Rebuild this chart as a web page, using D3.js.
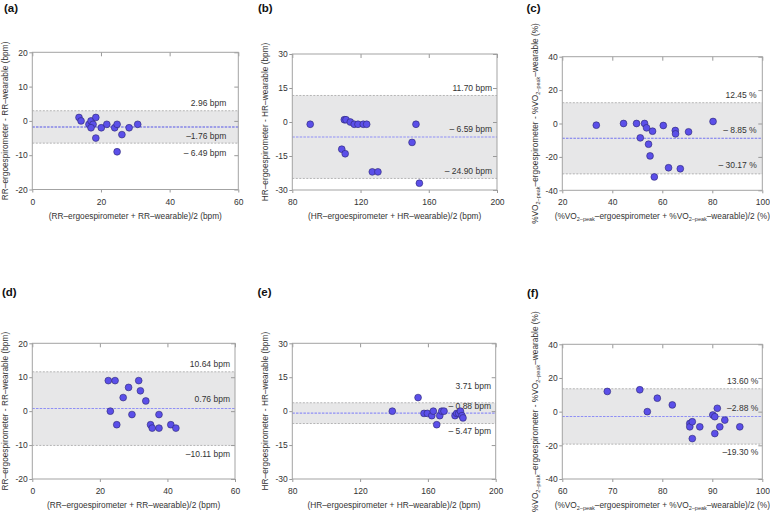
<!DOCTYPE html>
<html>
<head>
<meta charset="utf-8">
<script src="https://cdn.jsdelivr.net/npm/d3@7"></script>
<style>
  body { margin: 0; background: #fff; }
  svg { display: block; font-family: "Liberation Sans", Arial, sans-serif; }
  .tick text { fill: #333; font-size: 8.5px; }
  .tick line { stroke: #999; }
</style>
</head>
<body>
<svg width="770" height="512"></svg>
<script>
// values: mean of the two methods (x) and their difference (y)
var aMean = [13.6, 14.2, 16.5, 17.1, 17.7, 17.1, 18.5, 18.5, 20.1, 21.7, 24.0, 24.7, 24.7, 26.1, 28.2, 30.7];
var aDiff = [1, 0, -1, 0, -1, -2, 1, -5, -2, -1, -2, -1, -9, -4, -2, -1];

var bMean = [90.5, 109, 110.5, 111, 111.5, 114, 116.3, 118.5, 121.6, 123.6, 126.9, 130.2, 150.2, 152.5, 154.5];
var bDiff = [-1, -12, 1, -14, 1, 0, -1, -1, -1, -1, -22, -22, -9, -1, -27];

var cMean = [33.6, 44.5, 49.7, 51.2, 52.9, 53.7, 54.5, 55.1, 56.1, 56.8, 60.4, 62.5, 65.2, 65.3, 67.2, 70.5, 80.3];
var cDiff = [-1, 0, 0, -8.6, 0, -2.6, -12.4, -19.4, -4.6, -32, -1.2, -26.5, -4.2, -6.2, -27.1, -5, 1.2];

var dMean = [22.5, 23.1, 24.5, 25, 26.9, 28.5, 29.5, 31.5, 32, 33.6, 35, 35.5, 37.5, 37.5, 41, 42.5];
var dDiff = [9, 0, 9, -4, 4, 7, -1, 9, 6, 3, -4, -5, -1, -5, -4, -5];

var eMean = [139, 154.2, 157.7, 159.7, 162.3, 163.2, 165.2, 167, 168.2, 169.5, 176, 177, 178.2, 179.2, 180.1, 180.7];
var eDiff = [0, 6, -1, -1, -2, 0, -6, -2, 0, 0, -2, -1, -1, 0, -2, -3];

var fMean = [69, 75.5, 77, 79, 82, 85.5, 85.5, 86, 86, 87.5, 90.1, 90.5, 90.5, 91, 91.5, 92.5, 95.5];
var fDiff = [12, 13, 0, 8, 4, -7, -9, -6, -16, -9, -2, -3, -13, 2, -9, -5, -9];

// upper limit, bias, lower limit (where the lines sit) and their printed labels
var aLimits = [2.96, -1.76, -6.49];
var bLimits = [11.70, -6.59, -24.90];
var cLimits = [12.45, -8.85, -30.17];
var dLimits = [11.6, 0.76, -10.11];
var eLimits = [3.71, -0.88, -5.47];
var fLimits = [13.60, -2.88, -19.30];

var aLabels = ['2.96 bpm', '\u20131.76 bpm', '\u2013 6.49 bpm'];
var bLabels = ['11.70 bpm', '\u2013 6.59 bpm', '\u2013 24.90 bpm'];
var cLabels = ['12.45 %', '\u2013 8.85 %', '\u2013 30.17 %'];
var dLabels = ['10.64 bpm', '0.76 bpm', '\u201310.11 bpm'];
var eLabels = ['3.71 bpm', '\u2013 0.88 bpm', '\u2013 5.47 bpm'];
var fLabels = ['13.60 %', '\u20132.88 %', '\u201319.30 %'];

// axis ticks
var rrXTicks = [0, 20, 40, 60];
var rrYTicks = [-20, -10, 0, 10, 20];
var hrXTicks = [80, 120, 160, 200];
var hrYTicks = [-30, -15, 0, 15, 30];
var vo2XTicksC = [20, 40, 60, 80, 100];
var vo2XTicksF = [60, 70, 80, 90, 100];
var vo2YTicks = [-40, -20, 0, 20, 40];

var svg = d3.select('svg');

// layout per panel (box edges in px), label offsets relative to each line
var panels = [
    {tag: '(a)', tx: 4, ty: 12, box: [32.3, 238.3, 52.3, 189.5], x: rrXTicks, y: rrYTicks, kind: 'RR',
     mean: aMean, diff: aDiff, lim: aLimits, lab: aLabels, dy: [-8, 9, 10], inset: 12, biasColor: '#5656e6'},
    {tag: '(b)', tx: 258, ty: 12, box: [292.3, 497, 54, 190], x: hrXTicks, y: hrYTicks, kind: 'HR',
     mean: bMean, diff: bDiff, lim: bLimits, lab: bLabels, dy: [-7.3, -8, -7.3], inset: 5, biasColor: '#8f8ff5'},
    {tag: '(c)', tx: 526.5, ty: 12, box: [562.3, 762.3, 56.7, 190.3], x: vo2XTicksC, y: vo2YTicks, kind: 'VO2',
     mean: cMean, diff: cDiff, lim: cLimits, lab: cLabels, dy: [-8, -8, -8.4], inset: 5.6, biasColor: '#7474f0'},
    {tag: '(d)', tx: 2, ty: 296, box: [32.3, 235, 343.3, 479], x: rrXTicks, y: rrYTicks, kind: 'RR',
     mean: dMean, diff: dDiff, lim: dLimits, lab: dLabels, dy: [-8, -9.4, 8.3], inset: 5, biasColor: '#8f8ff5'},
    {tag: '(e)', tx: 257.5, ty: 296, box: [292.3, 495.7, 343.3, 479], x: hrXTicks, y: hrYTicks, kind: 'HR',
     mean: eMean, diff: eDiff, lim: eLimits, lab: eLabels, dy: [-16.3, -7, 7.7], inset: 4.7, biasColor: '#8f8ff5'},
    {tag: '(f)', tx: 527, ty: 297, box: [562.3, 762.3, 344.3, 479], x: vo2XTicksF, y: vo2YTicks, kind: 'VO2',
     mean: fMean, diff: fDiff, lim: fLimits, lab: fLabels, dy: [-7.3, -8, 7.7], inset: 4, biasColor: '#8f8ff5'}
];

// writes an axis title; the VO2 ones need the "2-peak" subscripts
function writeTitle(text, kind, axis) {
    var sub = {'font-size': '5.5px', 'baseline-shift': '-25%'};
    if (kind === 'VO2') {
        var parts = axis === 'x'
            ? ['(%VO', '\u2013ergoespirometer + %VO', '\u2013wearable)/2 (%)']
            : ['%VO', '\u2013ergoespirometer - %VO', '\u2013wearable (%)'];
        text.append('tspan').text(parts[0]);
        text.append('tspan').attr('font-size', sub['font-size']).attr('baseline-shift', sub['baseline-shift']).text('2\u2013peak');
        text.append('tspan').text(parts[1]);
        text.append('tspan').attr('font-size', sub['font-size']).attr('baseline-shift', sub['baseline-shift']).text('2\u2013peak');
        text.append('tspan').text(parts[2]);
    } else if (axis === 'x') {
        text.text('(' + kind + '\u2013ergoespirometer + ' + kind + '\u2013wearable)/2 (bpm)');
    } else {
        text.text(kind + '\u2013ergoespirometer - ' + kind + '\u2013wearable (bpm)');
    }
}

panels.forEach(function(p) {
    var left = p.box[0], right = p.box[1], top = p.box[2], bottom = p.box[3];
    var xScale = d3.scaleLinear().domain(d3.extent(p.x)).range([left, right]);
    var yScale = d3.scaleLinear().domain(d3.extent(p.y)).range([bottom, top]);
    var g = svg.append('g');

    // panel letter
    svg.append('text')
        .attr('x', p.tx).attr('y', p.ty)
        .attr('font-size', '11.5px').attr('font-weight', 'bold').attr('fill', '#111')
        .text(p.tag);

    // limits of agreement band
    g.append('rect')
        .attr('x', left).attr('width', right - left)
        .attr('y', yScale(p.lim[0]))
        .attr('height', yScale(p.lim[2]) - yScale(p.lim[0]))
        .attr('fill', '#e7e7e8');

    g.selectAll('.limit')
        .data([p.lim[0], p.lim[2]])
        .enter().append('line')
        .attr('class', 'limit')
        .attr('x1', left).attr('x2', right)
        .attr('y1', d => yScale(d)).attr('y2', d => yScale(d))
        .attr('stroke', '#9a9a9a').attr('stroke-width', 0.7)
        .attr('stroke-dasharray', '2,1.5');

    g.append('line')
        .attr('x1', left).attr('x2', right)
        .attr('y1', yScale(p.lim[1])).attr('y2', yScale(p.lim[1]))
        .attr('stroke', p.biasColor).attr('stroke-width', 1.1)
        .attr('stroke-dasharray', '2.5,1.2');

    // axes: outward ticks left/bottom, mirrored inward ticks top/right
    g.append('g')
        .attr('transform', 'translate(' + left + ',0)')
        .call(d3.axisLeft(yScale).tickValues(p.y).tickSize(3).tickPadding(1.5).tickFormat(d => String(d)));
    g.append('g')
        .attr('transform', 'translate(0,' + bottom + ')')
        .call(d3.axisBottom(xScale).tickValues(p.x).tickSize(3).tickPadding(6).tickFormat(d => String(d)));
    g.append('g')
        .attr('transform', 'translate(' + right + ',0)')
        .call(d3.axisLeft(yScale).tickValues(p.y).tickSize(4).tickFormat(''));
    g.append('g')
        .attr('transform', 'translate(0,' + top + ')')
        .call(d3.axisBottom(xScale).tickValues(p.x).tickSize(4).tickFormat(''));
    g.selectAll('.domain').remove();

    g.append('rect')
        .attr('x', left).attr('y', top)
        .attr('width', right - left).attr('height', bottom - top)
        .attr('fill', 'none').attr('stroke', '#a3a3a3').attr('stroke-width', 1);

    // limit labels
    g.selectAll('.limlabel')
        .data(p.lim)
        .enter().append('text')
        .attr('class', 'limlabel')
        .attr('x', right - p.inset)
        .attr('y', (d, i) => yScale(d) + p.dy[i])
        .attr('dy', '0.35em')
        .attr('text-anchor', 'end')
        .attr('font-size', '8.5px').attr('fill', '#333')
        .text((d, i) => p.lab[i]);

    // points
    var pts = p.mean.map((m, i) => ({m: m, d: p.diff[i]}));
    g.selectAll('.pt')
        .data(pts)
        .enter().append('circle')
        .attr('class', 'pt')
        .attr('cx', d => xScale(d.m))
        .attr('cy', d => yScale(d.d))
        .attr('r', 3.4)
        .attr('fill', '#5b4fe9')
        .attr('stroke', '#2b2670').attr('stroke-width', 0.6);

    // axis titles
    var xt = g.append('text')
        .attr('x', (left + right) / 2).attr('y', bottom + 29)
        .attr('text-anchor', 'middle').attr('font-size', '8.3px').attr('fill', '#333');
    writeTitle(xt, p.kind, 'x');

    var yt = g.append('text')
        .attr('transform', 'translate(' + (left - 27) + ',' + ((top + bottom) / 2) + ') rotate(-90)')
        .attr('dy', '0.35em')
        .attr('text-anchor', 'middle').attr('font-size', '8.3px').attr('fill', '#333');
    writeTitle(yt, p.kind, 'y');
});
</script>
</body>
</html>
